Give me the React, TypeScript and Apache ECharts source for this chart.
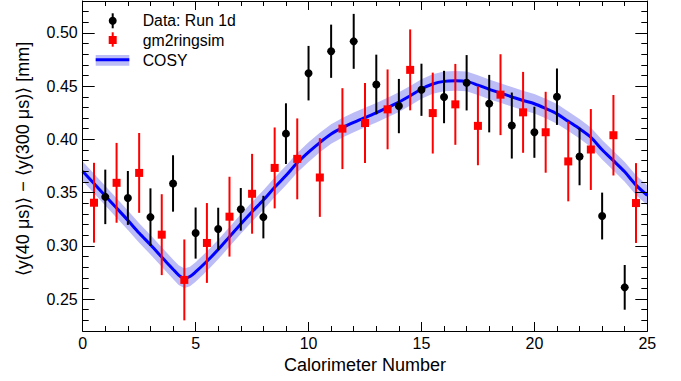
import React, { useEffect, useRef } from "react";
import * as echarts from "echarts";

// ---- Data: Run 1d (black circles) ----
const dataX = [1, 2, 3, 4, 5, 6, 7, 8, 9, 10, 11, 12, 13, 14, 15, 16, 17, 18, 19, 20, 21, 22, 23, 24];
const dataY = [0.346, 0.345, 0.327, 0.3586, 0.312, 0.3158, 0.3343, 0.327, 0.4054, 0.4622, 0.4828, 0.4921,
  0.4516, 0.4313, 0.4466, 0.4398, 0.4532, 0.4336, 0.413, 0.4067, 0.4401, 0.3839, 0.328, 0.261];
const dataErr = [0.0256, 0.0253, 0.027, 0.0265, 0.024, 0.02, 0.02, 0.02, 0.0285, 0.0256, 0.025, 0.0258,
  0.028, 0.0255, 0.0245, 0.0246, 0.026, 0.027, 0.031, 0.024, 0.0265, 0.027, 0.022, 0.021];

// ---- gm2ringsim (red squares) ----
const simX = [0.5, 1.5, 2.5, 3.5, 4.5, 5.5, 6.5, 7.5, 8.5, 9.5, 10.5, 11.5, 12.5, 13.5, 14.5, 15.5, 16.5,
  17.5, 18.5, 19.5, 20.5, 21.5, 22.5, 23.5, 24.5];
const simY = [0.3405, 0.3592, 0.3685, 0.3105, 0.268, 0.3027, 0.3274, 0.3489, 0.3732, 0.3817, 0.3642, 0.4101,
  0.4154, 0.4282, 0.4653, 0.4247, 0.4329, 0.4127, 0.442, 0.4254, 0.4067, 0.3793, 0.3905, 0.4039, 0.3402];
const simErr = [0.0375, 0.0375, 0.0375, 0.038, 0.038, 0.0375, 0.0375, 0.0375, 0.038, 0.038, 0.037, 0.038,
  0.0375, 0.0375, 0.038, 0.038, 0.038, 0.037, 0.038, 0.038, 0.038, 0.0375, 0.038, 0.0378, 0.0375];

// ---- COSY prediction (blue curve with band) ----
const cosyX = [0, 0.5, 1, 1.5, 2, 2.5, 3, 3.5, 4, 4.25, 4.5, 4.75, 5, 5.5, 6, 6.5, 7, 7.5, 8, 8.5, 9, 9.5,
  10, 10.5, 11, 11.5, 12, 12.5, 13, 13.5, 14, 14.5, 15, 15.5, 16, 16.5, 17, 17.5, 18, 18.5, 19, 19.5, 20,
  20.5, 21, 21.5, 22, 22.5, 23, 23.5, 24, 24.5, 25];
const cosyY = [0.37, 0.3585, 0.347, 0.3355, 0.324, 0.312, 0.301, 0.2895, 0.278, 0.2725, 0.2695, 0.2712,
  0.2755, 0.2855, 0.2965, 0.3085, 0.3205, 0.332, 0.343, 0.355, 0.366, 0.378, 0.388, 0.397, 0.405, 0.411,
  0.416, 0.4205, 0.425, 0.43, 0.435, 0.441, 0.4473, 0.452, 0.4545, 0.455, 0.4545, 0.451, 0.447, 0.4435,
  0.44, 0.4365, 0.4335, 0.429, 0.424, 0.417, 0.41, 0.402, 0.3902, 0.38, 0.3695, 0.357, 0.3474];
const cosyBandHalf = 0.0092;

// ---- ticks ----
const xMajorTicks = [0, 5, 10, 15, 20, 25];
const xMinorTicks = [0, 1, 2, 3, 4, 5, 6, 7, 8, 9, 10, 11, 12, 13, 14, 15, 16, 17, 18, 19, 20, 21, 22, 23, 24, 25];
const yMajorTicks = [0.25, 0.3, 0.35, 0.4, 0.45, 0.5];
const yMinorTicks = [0.22, 0.23, 0.24, 0.25, 0.26, 0.27, 0.28, 0.29, 0.3, 0.31, 0.32, 0.33, 0.34, 0.35, 0.36,
  0.37, 0.38, 0.39, 0.4, 0.41, 0.42, 0.43, 0.44, 0.45, 0.46, 0.47, 0.48, 0.49, 0.5, 0.51, 0.52, 0.53];

const FONT = "'Liberation Sans', Arial, Helvetica, sans-serif";
const BAND_COLOR = "#bcbcf7";
const X_MIN = 0, X_MAX = 25, Y_MIN = 0.22, Y_MAX = 0.53;

function makeX(position: string, ticks: number[], len: number, showLine: boolean, showLabels: boolean) {
  return {
    type: "value",
    min: X_MIN,
    max: X_MAX,
    position,
    z: 50,
    axisLine: { show: showLine, onZero: false, lineStyle: { color: "#000", width: 1 } },
    axisTick: { show: true, inside: true, length: len, customValues: ticks, lineStyle: { color: "#000", width: 1 } },
    axisLabel: showLabels
      ? { show: true, customValues: xMajorTicks, margin: 4, color: "#000", fontSize: 16, fontFamily: FONT }
      : { show: false },
    splitLine: { show: false },
  };
}

function makeY(position: string, ticks: number[], len: number, showLine: boolean, showLabels: boolean) {
  return {
    type: "value",
    min: Y_MIN,
    max: Y_MAX,
    position,
    z: 50,
    axisLine: { show: showLine, onZero: false, lineStyle: { color: "#000", width: 1 } },
    axisTick: { show: true, inside: true, length: len, customValues: ticks, lineStyle: { color: "#000", width: 1 } },
    axisLabel: showLabels
      ? {
          show: true,
          customValues: yMajorTicks,
          margin: 5,
          color: "#000",
          fontSize: 16,
          fontFamily: FONT,
          formatter: (v: number) => v.toFixed(2),
        }
      : { show: false },
    splitLine: { show: false },
  };
}

function errorBarSeries(name: string, xs: number[], ys: number[], errs: number[], color: string, z: number) {
  return {
    name,
    type: "custom",
    xAxisIndex: 0,
    yAxisIndex: 0,
    z,
    data: xs.map((x, i) => [x, ys[i] - errs[i], ys[i] + errs[i]]),
    encode: { x: 0, y: [1, 2] },
    renderItem: (_params: any, api: any) => {
      const x = api.value(0);
      const lo = api.coord([x, api.value(1)]);
      const hi = api.coord([x, api.value(2)]);
      return {
        type: "line",
        shape: { x1: lo[0], y1: lo[1], x2: hi[0], y2: hi[1] },
        style: { stroke: color, lineWidth: 2 },
      };
    },
    silent: true,
  };
}

export default function App() {
  const ref = useRef<HTMLDivElement>(null);

  useEffect(() => {
    if (!ref.current) return;
    const chart = echarts.init(ref.current, undefined, { renderer: "svg" });

    const bandData = cosyX.map((x, i) => [x, cosyY[i] - cosyBandHalf, cosyY[i] + cosyBandHalf]);
    const legendFont = `15.8px ${FONT}`;

    const option: any = {
      animation: false,
      backgroundColor: "#ffffff",
      grid: { left: 82.7, right: 33.7, top: 1, bottom: 50, containLabel: false },
      xAxis: [
        { ...makeX("bottom", xMajorTicks, 9, true, true), name: "Calorimeter Number", nameLocation: "middle",
          nameGap: 22, nameTextStyle: { fontSize: 18, color: "#000", fontFamily: FONT } },
        makeX("bottom", xMinorTicks, 5, false, false),
        makeX("top", xMajorTicks, 9, true, false),
        makeX("top", xMinorTicks, 5, false, false),
      ],
      yAxis: [
        makeY("left", yMajorTicks, 12, true, true),
        makeY("left", yMinorTicks, 6, false, false),
        makeY("right", yMajorTicks, 12, true, false),
        makeY("right", yMinorTicks, 6, false, false),
      ],
      series: [
        {
          name: "COSY band",
          type: "custom",
          xAxisIndex: 0,
          yAxisIndex: 0,
          z: 1,
          silent: true,
          data: bandData,
          encode: { x: 0, y: [1, 2] },
          renderItem: (params: any, api: any) => {
            if (params.dataIndex !== 0) return null;
            const upper = bandData.map((d) => api.coord([d[0], d[2]]));
            const lower = bandData.map((d) => api.coord([d[0], d[1]])).reverse();
            return {
              type: "polygon",
              shape: { points: upper.concat(lower) },
              style: { fill: BAND_COLOR, stroke: "none" },
            };
          },
        },
        {
          name: "COSY",
          type: "line",
          xAxisIndex: 0,
          yAxisIndex: 0,
          z: 3,
          smooth: 0.3,
          symbol: "none",
          lineStyle: { color: "#0000ff", width: 3 },
          data: cosyX.map((x, i) => [x, cosyY[i]]),
        },
        errorBarSeries("gm2ringsim errors", simX, simY, simErr, "#ff0000", 4),
        {
          name: "gm2ringsim",
          type: "scatter",
          xAxisIndex: 0,
          yAxisIndex: 0,
          z: 5,
          symbol: "rect",
          symbolSize: 8,
          itemStyle: { color: "#ff0000", opacity: 1 },
          data: simX.map((x, i) => [x, simY[i]]),
        },
        errorBarSeries("Data errors", dataX, dataY, dataErr, "#000000", 6),
        {
          name: "Data: Run 1d",
          type: "scatter",
          xAxisIndex: 0,
          yAxisIndex: 0,
          z: 7,
          symbol: "circle",
          symbolSize: 8,
          itemStyle: { color: "#000000", opacity: 1 },
          data: dataX.map((x, i) => [x, dataY[i]]),
        },
      ],
      graphic: {
        elements: [
          {
            type: "text",
            x: 23,
            y: 159,
            rotation: Math.PI / 2,
            z: 100,
            style: {
              text: "⟨y(40 μs)⟩ − ⟨y(300 μs)⟩ [mm]",
              font: `18px ${FONT}`,
              fill: "#000",
              textAlign: "center",
              textVerticalAlign: "middle",
            },
          },
          // legend: Data
          { type: "line", z: 100, shape: { x1: 112.7, y1: 13.3, x2: 112.7, y2: 28.3 }, style: { stroke: "#000", lineWidth: 2 } },
          { type: "circle", z: 101, shape: { cx: 112.7, cy: 20.7, r: 4 }, style: { fill: "#000" } },
          {
            type: "text", z: 100, x: 142.7, y: 20.7,
            style: { text: "Data: Run 1d", font: legendFont, fill: "#000", textVerticalAlign: "middle" },
          },
          // legend: gm2ringsim
          { type: "line", z: 100, shape: { x1: 112.7, y1: 32.3, x2: 112.7, y2: 46.7 }, style: { stroke: "#ff0000", lineWidth: 2 } },
          { type: "rect", z: 101, shape: { x: 108.7, y: 36, width: 8, height: 8 }, style: { fill: "#ff0000" } },
          {
            type: "text", z: 100, x: 142.7, y: 40,
            style: { text: "gm2ringsim", font: legendFont, fill: "#000", textVerticalAlign: "middle" },
          },
          // legend: COSY
          { type: "rect", z: 100, shape: { x: 95.7, y: 55, width: 33.6, height: 10.7 }, style: { fill: BAND_COLOR } },
          { type: "line", z: 101, shape: { x1: 95.7, y1: 59.8, x2: 129.3, y2: 59.8 }, style: { stroke: "#0000ff", lineWidth: 3 } },
          {
            type: "text", z: 100, x: 142.7, y: 60,
            style: { text: "COSY", font: legendFont, fill: "#000", textVerticalAlign: "middle" },
          },
        ],
      },
    };

    chart.setOption(option);
    return () => chart.dispose();
  }, []);

  return (
    <div
      ref={ref}
      style={{ position: "absolute", left: 0, top: 0, width: 681, height: 381, background: "#fff" }}
    />
  );
}
